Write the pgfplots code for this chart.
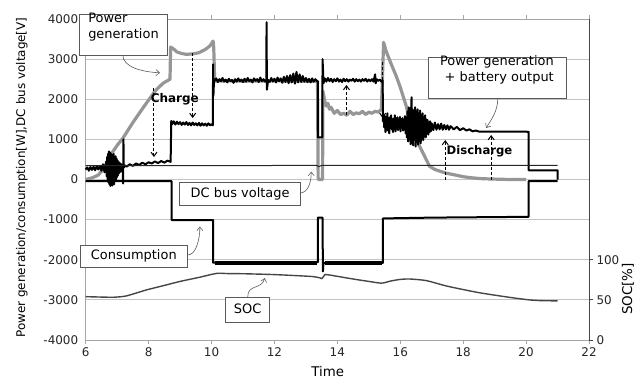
\documentclass[border=0pt]{standalone}
\usepackage{pgfplots}
\pgfplotsset{compat=1.18}
\usepackage{fontspec}
\setmainfont{DejaVu Sans}
\usetikzlibrary{arrows.meta}
\definecolor{gen}{RGB}{150,150,150}
\definecolor{gridc}{RGB}{195,195,195}
\definecolor{socc}{RGB}{70,70,70}
\definecolor{boxc}{RGB}{90,90,90}
\begin{document}
\begin{tikzpicture}[
  lbl/.style={draw=boxc, fill=white, line width=0.8bp, font=\fontsize{13}{16}\selectfont, inner xsep=4bp, inner ysep=3bp, text height=10bp, text depth=3bp},
  cur/.style={draw=boxc, line width=0.6bp, -{Straight Barb[length=3.5bp,width=6bp]}},
  dsh/.style={draw=black, line width=1bp, dash pattern=on 3bp off 2bp, -{Straight Barb[length=4bp,width=6bp]}},
]
\begin{axis}[name=ax, scale only axis, width=503.3bp, height=321bp,
  xmin=6, xmax=22, ymin=-4000, ymax=4000, clip=false,
  axis line style={draw=gray!70, line width=0.8bp},
  xtick={6,8,...,22}, xticklabels={6,8,10,12,14,16,18,20,22},
  ytick={-4000,-3000,...,4000},
  yticklabels={-4000,-3000,-2000,-1000,0,1000,2000,3000,4000},
  ymajorgrids, major grid style={draw=gridc, line width=0.8bp},
  ytick style={draw=none},
  xtick style={draw=gray!70, line width=0.8bp},
  tick align=outside, major tick length=4bp,
  ticklabel style={font=\fontsize{12}{14}\selectfont, text=black!85},
  xlabel={Time},
  ylabel={Power generation/consumption[W],DC bus voltage[V]},
  xlabel style={at={(axis description cs:0.481,-0.099)}, anchor=center, font=\fontsize{13.4}{16}\selectfont},
  ylabel style={at={(axis description cs:-0.127,0.506)}, anchor=center, font=\fontsize{12}{14}\selectfont},
]
% Power generation (gray)
\addplot[gen, line width=3.2bp, line join=round] coordinates {
(6.0,0) (6.2,40) (6.4,110) (6.55,250) (6.7,450) (6.85,680) (7.0,850) (7.2,1050)
(7.5,1420) (7.8,1760) (8.0,1980) (8.2,2200) (8.46,2400) (8.68,2500) (8.70,3300)
(8.8,3250) (8.9,3180) (9.05,3140) (9.2,3120) (9.4,3130) (9.6,3160) (9.8,3240)
(9.95,3330) (10.05,3450) (10.07,3300) (10.1,2450) (10.5,2460) (11,2450) (12,2460)
(13,2450) (13.37,2450) (13.39,0) (13.53,0) (13.54,2200) (13.6,1950) (13.65,1830)
(13.7,1900) (13.75,1750) (13.8,1800) (13.9,1650) (14.0,1720) (14.1,1620) (14.2,1650)
(14.3,1600) (14.4,1700) (14.5,1620) (14.6,1660) (14.7,1640) (14.8,1700) (14.9,1620)
(15.0,1680) (15.1,1650) (15.2,1700) (15.3,1680) (15.4,1750) (15.47,3420) (15.55,3200)
(15.7,2900) (15.87,2580) (16.0,2300) (16.19,1830) (16.4,1160) (16.5,1000) (16.72,665)
(16.93,330) (17.1,250) (17.25,210) (17.45,160) (17.67,125) (18.0,70) (18.3,40)
(18.6,20) (19.0,10) (19.5,0) (20.0,0)};
% Power generation + battery output (black)
\addplot[black, line width=2bp, line join=round] coordinates {
(6.00,250) (6.05,300) (6.10,220) (6.15,310) (6.20,240) (6.25,320) (6.30,230) (6.35,330)
(6.40,250) (6.45,340) (6.50,220) (6.55,380) (6.60,180)
(6.65,450) (6.665,80) (6.68,560) (6.695,-20) (6.71,640) (6.725,-80) (6.74,700) (6.755,-120)
(6.77,680) (6.785,-160) (6.80,650) (6.815,-100) (6.83,620) (6.845,-150) (6.86,600) (6.875,-60)
(6.89,640) (6.905,-120) (6.92,560) (6.935,-30) (6.95,580) (6.965,0) (6.98,520) (6.995,60)
(7.01,480) (7.025,100) (7.04,450) (7.055,150) (7.07,420) (7.085,180) (7.10,400) (7.115,200)
(7.13,380) (7.145,220) (7.16,360) (7.175,250) (7.19,-100) (7.20,1000) (7.21,300) (7.25,350)
(7.3,320) (7.4,380) (7.5,340) (7.6,400) (7.7,360) (7.8,420) (7.9,380) (8.0,430)
(8.1,400) (8.2,450) (8.3,410) (8.4,460) (8.5,420) (8.6,470) (8.7,440)
(8.72,1460) (8.75,1380) (8.80,1450) (8.85,1370) (8.90,1440) (8.95,1380) (9.00,1430)
(9.05,1360) (9.10,1420) (9.15,1370) (9.20,1430) (9.25,1360) (9.30,1410) (9.35,1350)
(9.40,1420) (9.45,1360) (9.50,1400) (9.55,1350) (9.60,1410) (9.65,1340) (9.70,1400)
(9.75,1350) (9.80,1390) (9.85,1340) (9.90,1400) (9.95,1350) (10.00,1380) (10.04,1350)
(10.05,2870) (10.06,2080) (10.08,2500)
(10.10,2460) (10.15,2520) (10.20,2430) (10.25,2500) (10.30,2450) (10.35,2530) (10.40,2440)
(10.45,2490) (10.50,2420) (10.55,2510) (10.60,2450) (10.65,2480) (10.70,2410) (10.75,2500)
(10.80,2440) (10.85,2520) (10.90,2450) (10.95,2490) (11.00,2430) (11.05,2510) (11.10,2440)
(11.15,2530) (11.20,2450) (11.25,2490) (11.30,2420) (11.35,2520) (11.40,2460) (11.45,2500)
(11.50,2430) (11.55,2540) (11.60,2450) (11.65,2500) (11.70,2440) (11.74,2480) (11.75,3920)
(11.76,2240) (11.80,2480) (11.85,2430) (11.90,2530) (11.95,2440) (12.00,2510) (12.05,2420)
(12.10,2540) (12.15,2450) (12.20,2520) (12.25,2410) (12.30,2560) (12.35,2430) (12.40,2580)
(12.45,2400) (12.50,2600) (12.55,2420) (12.60,2640) (12.65,2390) (12.70,2680) (12.75,2420)
(12.80,2620) (12.85,2430) (12.90,2580) (12.95,2440) (13.00,2530) (13.05,2430) (13.10,2510)
(13.15,2420) (13.20,2520) (13.25,2440) (13.30,2500) (13.35,2450) (13.38,2450)
(13.38,1050) (13.52,1050) (13.53,3000)
(13.56,2400) (13.60,2520) (13.65,2440) (13.70,2530) (13.75,2450) (13.80,2510) (13.85,2430)
(13.90,2500) (13.95,2450) (14.00,2520) (14.05,2440) (14.10,2490) (14.15,2430) (14.20,2510)
(14.25,2450) (14.30,2500) (14.35,2440) (14.40,2490) (14.45,2460) (14.50,2510) (14.55,2440)
(14.60,2500) (14.65,2450) (14.70,2490) (14.75,2440) (14.80,2500) (14.85,2460) (14.90,2510)
(14.95,2440) (15.00,2490) (15.05,2450) (15.10,2500) (15.15,2440) (15.20,2620) (15.22,2400)
(15.25,2500) (15.30,2460) (15.35,2490) (15.40,2440) (15.44,2470)
(15.45,1450) (15.47,1620) (15.49,1300) (15.51,1580) (15.53,1180) (15.55,1500) (15.57,1350)
(15.59,1650) (15.61,1220) (15.63,1480) (15.65,1150) (15.67,1550) (15.69,1300) (15.71,1600)
(15.73,1250) (15.75,1450) (15.77,1180) (15.79,1520) (15.81,1330) (15.83,1600) (15.85,1200)
(15.87,1480) (15.89,1270) (15.91,1550) (15.93,1230) (15.95,1420) (15.97,1300) (15.99,1560)
(16.01,1200) (16.03,1480) (16.05,1290) (16.07,1530) (16.09,1220) (16.11,1450) (16.13,1300)
(16.15,1580) (16.17,1150) (16.19,1500) (16.21,1050) (16.23,1700) (16.25,950) (16.27,1800)
(16.29,1000) (16.31,1650) (16.33,880) (16.35,1850) (16.36,2050) (16.37,900) (16.39,1750)
(16.41,850) (16.43,1680) (16.45,1000) (16.47,1800) (16.49,820) (16.51,1700) (16.53,950)
(16.55,1750) (16.57,870) (16.59,1650) (16.61,1000) (16.63,1720) (16.65,900) (16.67,1600)
(16.69,1050) (16.71,1650) (16.73,980) (16.75,1550) (16.77,1100) (16.79,1600) (16.81,1050)
(16.83,1500) (16.85,1150) (16.87,1480) (16.89,1120) (16.91,1420) (16.93,1180) (16.95,1450)
(16.97,1200) (17.00,1400) (17.05,1230) (17.10,1420) (17.15,1240) (17.20,1380) (17.25,1250)
(17.30,1390) (17.35,1240) (17.40,1360) (17.45,1250) (17.50,1350) (17.55,1240) (17.60,1330)
(17.70,1250) (17.80,1310) (17.90,1230) (18.00,1280) (18.10,1220) (18.20,1250) (18.30,1200)
(18.40,1220) (18.50,1195)
(20.08,1190) (20.08,230) (21.0,230) (21.0,0)};
% DC bus voltage
\addplot[black!85, line width=1bp] coordinates {
(6,345) (13.36,350) (13.40,320) (13.50,350) (21.0,355)};
% Consumption
\addplot[black, line width=2bp, line join=round] coordinates {
(6,-40) (8.73,-40) (8.73,-1010) (10.05,-1010) (10.05,-2070) (13.38,-2060)
(13.38,-950) (13.53,-950) (13.54,-2290) (13.56,-2080) (15.45,-2080)
(15.45,-970) (17,-950) (20.08,-930) (20.08,-40) (21.0,-40)};
\addplot[black, line width=3.5bp] coordinates {(10.1,-2075) (13.35,-2075)};
\addplot[black, line width=3.5bp] coordinates {(13.6,-2080) (15.42,-2080)};
% annotations
\node[lbl, anchor=north west, align=left, minimum width=88bp, minimum height=41bp] at (5.79,4124) {Power\\generation};
\node[lbl, anchor=north east, align=right, minimum width=138bp, minimum height=41bp] at (21.28,3053) {Power generation\\+ battery output};
\node[lbl, minimum width=121bp, minimum height=23bp] at (10.91,-349) {DC bus voltage};
\node[lbl, minimum width=106.6bp, minimum height=22.3bp] at (7.53,-1911) {Consumption};
\node[lbl, minimum width=44bp, minimum height=25bp] at (11.15,-3240) {SOC};
\draw[cur] (7.18,3102) .. controls (7.18,2800) and (7.8,2680) .. (8.36,2660);
\draw[cur] (19.1,2031) .. controls (19.1,1700) and (18.9,1500) .. (18.73,1283);
\draw[cur] (12.81,-336) .. controls (13.05,-336) and (13.17,-100) .. (13.17,194);
\draw[cur] (9.25,-1881) .. controls (9.5,-1881) and (9.63,-1500) .. (9.63,-1176);
\draw[cur] (11.15,-2928) .. controls (11.15,-2600) and (11.6,-2750) .. (11.69,-2455);
\draw[dsh] (8.17,2280) -- (8.17,561);
\draw[dsh] (9.4,3152) -- (9.4,1533);
\draw[dsh] (15.44,2928) -- (15.44,1533);
\draw[dsh] (14.29,1607) -- (14.29,2355);
\draw[dsh] (17.43,0) -- (17.43,984);
\draw[dsh] (18.89,0) -- (18.89,1109);
\node[font=\bfseries\fontsize{12}{14}\selectfont] at (8.83,2006) {Charge};
\node[font=\bfseries\fontsize{11.7}{14}\selectfont] at (18.52,710) {Discharge};
\end{axis}
\begin{axis}[scale only axis, width=503.3bp, height=321bp,
  xmin=6, xmax=22, ymin=0, ymax=400,
  axis x line=none, axis y line*=right,
  axis line style={draw=socc, line width=0.9bp, -},
  ytick={0,50,100}, yticklabels={0,50,100},
  tick align=outside, major tick length=4bp,
  ytick style={draw=socc, line width=0.8bp},
  ticklabel style={font=\fontsize{12}{14}\selectfont, text=black!85},
  ylabel={SOC[\%]},
  ylabel style={at={(axis description cs:1.0775,0.159)}, anchor=center, font=\fontsize{13.5}{16}\selectfont},
]
\addplot[socc, line width=1.4bp, smooth, tension=0.4] coordinates {
(6.0,54) (6.5,53.5) (6.9,53.3) (7.3,55) (7.94,62.5) (8.5,68) (9.0,73) (9.6,78)
(10.16,83) (10.5,82.8) (11.1,82.5) (12,81.5) (12.8,80) (13.23,79) (13.44,77.5)
(13.5,76.5) (13.56,79) (13.6,81.5) (13.75,81) (14.5,76) (15.0,73) (15.3,71.2)
(15.45,71) (15.7,73.5) (16.0,75.5) (16.3,76) (16.83,74) (17.5,67) (18.5,59)
(19.5,53) (20.1,50) (20.5,49) (21.0,48.8)};
\end{axis}
\pgfresetboundingbox
\path[use as bounding box] (ax.south west) ++(-85.7bp,-39bp) rectangle ++(642bp,379bp);
\end{tikzpicture}
\end{document}
